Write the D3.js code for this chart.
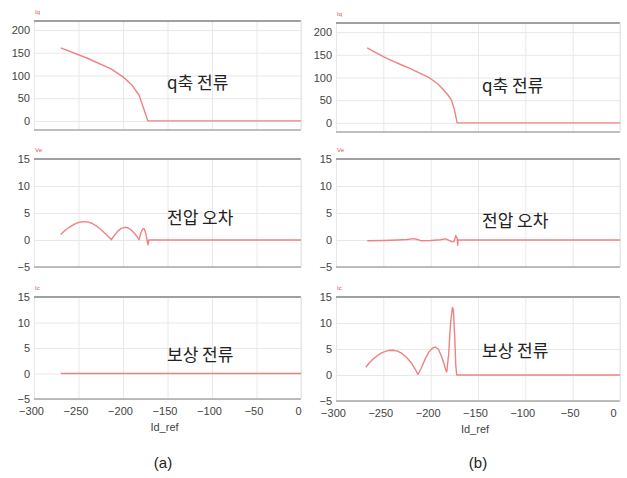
<!DOCTYPE html>
<html>
<head>
<meta charset="utf-8">
<script src="https://cdn.jsdelivr.net/npm/d3@7"></script>
<style>
  body { margin: 0; background: #fff; }
  svg { display: block; }
</style>
</head>
<body>
<svg id="chart" width="627" height="478"></svg>
<script>
let width = 627;
let height = 478;
let lineColor = "#f08282";
let gridColor = "#e8e8e8";

// x values (Id_ref) and y values for each series
let xTicks = [-300, -250, -200, -150, -100, -50, 0];
let iqTicks = [0, 50, 100, 150, 200];
let smallTicks = [-5, 0, 5, 10, 15];

let iqA_x = [-270, -240, -213, -200, -190, -182, -172, 0];
let iqA_y = [161, 138, 114, 97, 79, 57, 0, 0];

let iqB_x = [-267, -260, -250, -240, -230, -222, -212, -201, -192, -187, -182, -178, -175, -172, 0];
let iqB_y = [165, 157, 146, 136, 127, 120, 110, 99, 85, 74, 62, 50, 30, 0, 0];

let veA_x = [-270, -265, -260, -255, -250, -245, -240, -235, -230, -225, -220, -215, -213,
             -210, -206, -202, -198, -195, -191, -187, -184, -182,
             -180, -178, -176.5, -175, -173.5, -172, -171, 0];
let veA_y = [1.0, 1.8, 2.4, 2.9, 3.25, 3.4, 3.35, 3.1, 2.6, 1.95, 1.2, 0.4, 0.05,
             0.8, 1.6, 2.15, 2.35, 2.3, 1.9, 1.2, 0.6, 0.05,
             1.3, 2.0, 2.1, 1.6, 0.5, -0.9, 0, 0];

let veB_x = [-267, -250, -235, -225, -218, -214, -210, -200, -190, -184, -180, -177, -175, -173.5, -172, -171.5, -171, 0];
let veB_y = [-0.15, -0.1, 0.0, 0.1, 0.25, 0.1, -0.15, -0.1, 0.05, 0.2, -0.1, -0.35, -0.2, 0.8, 0.3, -1.0, 0, 0];

let icA_x = [-270, 0];
let icA_y = [0, 0];

let icB_x = [-268.5, -265, -260, -255, -250, -245, -240, -235, -230, -225, -220, -216, -213.5,
             -210, -206, -202, -198, -195, -192, -189, -186, -184, -183,
             -181, -179, -177, -176, -174.5, -173.5, -172.5, 0];
let icB_y = [1.5, 2.3, 3.2, 3.9, 4.4, 4.7, 4.75, 4.6, 4.1, 3.3, 2.2, 1.0, 0.1,
             1.3, 3.0, 4.4, 5.2, 5.35, 5.0, 3.8, 2.2, 0.9, 0.6,
             4, 10, 13.0, 12.5, 7, 2, 0, 0];

let panelTitles = ["q축 전류", "전압 오차", "보상 전류"];
let unitMarks = ["Iq", "Ve", "Ic"];
let captions = ["(a)", "(b)"];

let svg = d3.select("#chart");

let columns = [
    { x0: 34, x1: 301, labelX: 30, cap: 163, tops: [21, 159, 297], bottoms: [130, 267, 399],
      titleX: 167, titleY: [89, 224, 361],
      series: [[iqA_x, iqA_y], [veA_x, veA_y], [icA_x, icA_y]] },
    { x0: 336, x1: 620, labelX: 332, cap: 478, tops: [23, 159, 297], bottoms: [132, 267, 401],
      titleX: 482, titleY: [92, 227, 357],
      series: [[iqB_x, iqB_y], [veB_x, veB_y], [icB_x, icB_y]] }
];

columns.forEach(function(col, c) {
    let x = d3.scaleLinear().domain([-300, 0]).range([col.x0, col.x1]);

    for (let p = 0; p < 3; p++) {
        let top = col.tops[p];
        let bottom = col.bottoms[p];
        let ticks = p == 0 ? iqTicks : smallTicks;
        let domain = p == 0 ? [-20, 220] : [-5, 15];
        let y = d3.scaleLinear().domain(domain).range([bottom, top]);
        let g = svg.append("g");

        // vertical grid
        g.append("g")
            .attr("transform", "translate(0," + bottom + ")")
            .call(d3.axisBottom(x).tickValues(xTicks).tickSize(-(bottom - top)).tickFormat(""))
            .call(s => s.select(".domain").remove())
            .selectAll("line").style("stroke", gridColor).style("stroke-width", 1);

        // horizontal grid + labels
        g.append("g")
            .attr("transform", "translate(" + col.x0 + ",0)")
            .call(d3.axisLeft(y).tickValues(ticks).tickSize(-(col.x1 - col.x0)).tickPadding(col.x0 - col.labelX))
            .call(s => s.select(".domain").remove())
            .call(s => s.selectAll("line").style("stroke", gridColor).style("stroke-width", 1))
            .call(s => s.selectAll("text")
                .style("font-family", "Liberation Sans, Arial, sans-serif")
                .style("font-size", "11px").style("fill", "#444"));

        // frame
        g.append("line").attr("x1", col.x0).attr("x2", col.x1).attr("y1", top).attr("y2", top)
            .style("stroke", "#a0a0a0").style("stroke-width", 2);
        g.append("line").attr("x1", col.x0).attr("x2", col.x1).attr("y1", bottom).attr("y2", bottom)
            .style("stroke", "#a8a8a8").style("stroke-width", 1.5);
        g.append("line").attr("x1", col.x1).attr("x2", col.x1).attr("y1", top).attr("y2", bottom)
            .style("stroke", "#e4e4e4").style("stroke-width", 1);

        // series line
        let xs = col.series[p][0];
        let ys = col.series[p][1];
        let pts = xs.map((v, i) => [v, ys[i]]);
        g.append("path")
            .datum(pts)
            .attr("d", d3.line().x(d => x(d[0])).y(d => y(d[1])))
            .style("fill", "none")
            .style("stroke", lineColor)
            .style("stroke-width", 1.4)
            .style("stroke-linejoin", "round");

        // panel title
        g.append("text")
            .attr("x", col.titleX)
            .attr("y", col.titleY[p])
            .style("font-family", "Noto Sans CJK KR, sans-serif")
            .style("font-size", "17px")
            .style("fill", "#222")
            .text(panelTitles[p]);

        // tiny unit mark
        g.append("text")
            .attr("x", col.x0 + 1)
            .attr("y", top - 7)
            .style("font-family", "Liberation Sans, Arial, sans-serif")
            .style("font-size", "6px")
            .style("fill", "#e05050")
            .text(unitMarks[p]);

        if (p == 2) {
            g.append("g")
                .attr("transform", "translate(0," + bottom + ")")
                .call(d3.axisBottom(x).tickValues(xTicks).tickSize(0).tickPadding(8))
                .call(s => s.select(".domain").remove())
                .selectAll("text")
                .attr("dx", (d) => d == 0 && c == 1 ? -7 : -3)
                .style("font-family", "Liberation Sans, Arial, sans-serif")
                .style("font-size", "11px").style("fill", "#444");

            g.append("text")
                .attr("x", (col.x0 + col.x1) / 2 - 3)
                .attr("y", bottom + 32)
                .attr("text-anchor", "middle")
                .style("font-family", "Liberation Sans, Arial, sans-serif")
                .style("font-size", "11px")
                .style("fill", "#444")
                .text("Id_ref");
        }
    }

    svg.append("text")
        .attr("x", col.cap)
        .attr("y", 468)
        .attr("text-anchor", "middle")
        .style("font-family", "Liberation Sans, Arial, sans-serif")
        .style("font-size", "15px")
        .style("fill", "#222")
        .text(captions[c]);
});
</script>
</body>
</html>
